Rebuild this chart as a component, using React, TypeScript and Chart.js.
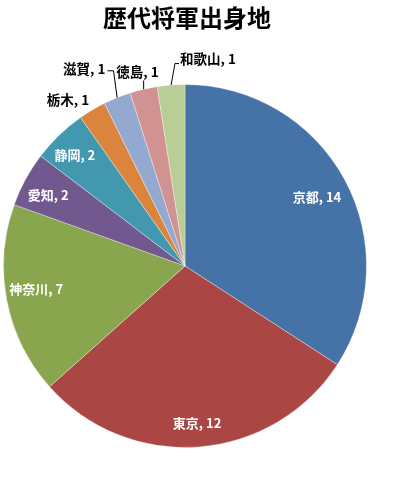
import React, { useEffect, useRef } from "react";
import { Chart, registerables } from "chart.js";

Chart.register(...registerables);

const chartTitle = "歴代将軍出身地";
const prefectures = ["京都", "東京", "神奈川", "愛知", "静岡", "栃木", "滋賀", "徳島", "和歌山"];
const shogunCounts = [14, 12, 7, 2, 2, 1, 1, 1, 1];
const sliceColors = [
  "#4572A7",
  "#AA4643",
  "#89A54E",
  "#71588F",
  "#4198AF",
  "#DB843D",
  "#93A9CF",
  "#D19392",
  "#B9CD96",
];

// where each data label sits: [radius factor, angle shift in degrees, inside the slice?]
const labelPlacement: [number, number, boolean][] = [
  [0.82, 1, true],
  [0.87, 0, true],
  [0.83, 2, true],
  [0.85, -1, true],
  [0.86, -1, true],
  [1.12, -4.4, false],
  [1.22, -5.1, false],
  [1.1, -0.6, false],
  [1.15, 10.7, false],
];

const FONT = "'Noto Sans CJK JP', 'Noto Sans', sans-serif";

const pieLabels = {
  id: "pieLabels",
  afterDraw(chart: Chart) {
    const ctx = chart.ctx;
    const meta = chart.getDatasetMeta(0);
    if (!meta.data.length) return;

    ctx.save();
    const first: any = meta.data[0];
    const cx = first.x;

    // title
    ctx.fillStyle = "#000";
    ctx.font = `bold 24px ${FONT}`;
    ctx.textAlign = "center";
    ctx.textBaseline = "middle";
    ctx.fillText(chartTitle, cx + 2, 18);

    meta.data.forEach((el: any, i: number) => {
      const { x, y, startAngle, endAngle, outerRadius } = el.getProps(
        ["x", "y", "startAngle", "endAngle", "outerRadius"],
        true
      );
      const mid = (startAngle + endAngle) / 2;
      const [f, shift, inside] = labelPlacement[i];
      const a = mid + (shift * Math.PI) / 180;
      const lx = x + Math.cos(a) * outerRadius * f;
      const ly = y + Math.sin(a) * outerRadius * f;
      const text = `${prefectures[i]}, ${shogunCounts[i]}`;

      ctx.font = `bold ${inside ? 13 : 13.5}px ${FONT}`;
      ctx.fillStyle = inside ? "#fff" : "#000";
      ctx.fillText(text, lx, ly);

      if (inside) return;
      const w = ctx.measureText(text).width;
      const h = 13;
      const left = lx - w / 2;
      const right = lx + w / 2;
      const top = ly - h / 2;
      const bottom = ly + h / 2;
      const ex = x + Math.cos(mid) * outerRadius;
      const ey = y + Math.sin(mid) * outerRadius;
      const dx = Math.max(left - ex, 0, ex - right);
      const dy = Math.max(top - ey, 0, ey - bottom);
      if (Math.hypot(dx, dy) < 8) return;

      ctx.strokeStyle = "#000";
      ctx.lineWidth = 1;
      ctx.beginPath();
      ctx.moveTo(ex, ey);
      if (ex > right + 2) {
        ctx.lineTo(right + 8, ly + 2);
        ctx.lineTo(right + 2, ly + 2);
      } else if (ex < left - 2) {
        ctx.lineTo(left - 5, ly + 5);
        ctx.lineTo(left - 1, ly + 5);
      } else {
        ctx.lineTo(ex, bottom + 2);
      }
      ctx.stroke();
    });
    ctx.restore();
  },
};

const App: React.FC = () => {
  const canvasRef = useRef<HTMLCanvasElement>(null);

  useEffect(() => {
    if (!canvasRef.current) return;
    const chart = new Chart(canvasRef.current, {
      type: "pie",
      data: {
        labels: prefectures,
        datasets: [
          {
            data: shogunCounts,
            backgroundColor: sliceColors,
            borderColor: "rgba(255, 255, 255, 0.35)",
            borderWidth: 1,
          },
        ],
      },
      options: {
        responsive: true,
        maintainAspectRatio: false,
        animation: false,
        layout: {
          padding: { left: 3, right: 38, top: 84, bottom: 40 },
        },
        plugins: {
          legend: { display: false },
          tooltip: { enabled: false },
          title: { display: false },
        },
      },
      plugins: [pieLabels],
    });

    return () => {
      chart.destroy();
    };
  }, []);

  return (
    <div
      style={{
        position: "fixed",
        left: 0,
        top: 0,
        width: 405,
        height: 488,
        background: "#fff",
      }}
    >
      <canvas ref={canvasRef}></canvas>
    </div>
  );
};

export default App;
